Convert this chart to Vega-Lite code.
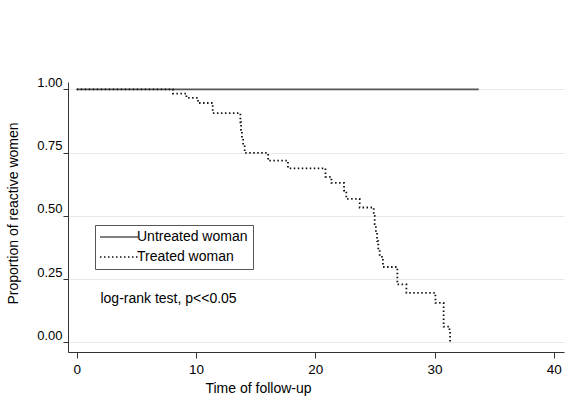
{
  "$schema": "https://vega.github.io/schema/vega-lite/v6.json",
  "width": 496,
  "height": 270,
  "autosize": {"type": "none"},
  "padding": {"left": 68, "top": 82, "right": 4, "bottom": 51},
  "background": "white",
  "config": {
    "font": "Liberation Sans",
    "view": {"stroke": null},
    "axis": {"labelFont": "Liberation Sans", "titleFont": "Liberation Sans", "labelColor": "#000", "titleColor": "#000", "titleFontWeight": "normal", "domainColor": "#333", "tickColor": "#333", "gridColor": "#e8e8e8"},
    "legend": {"title": null, "orient": "none", "legendX": 27, "legendY": 143, "strokeColor": "#555", "fillColor": "white", "padding": 5, "symbolType": "M-3.5,0H15.5", "symbolSize": 16, "symbolStrokeWidth": 1.5, "labelFont": "Liberation Sans", "labelFontSize": 14, "labelOffset": 23, "labelColor": "#000", "rowPadding": 6, "labelLimit": 300}
  },
  "datasets": {
    "curves": [
      {"group": "Untreated woman", "t": 0, "s": 1.0},
      {"group": "Untreated woman", "t": 33.7, "s": 1.0},
      {"group": "Treated woman", "t": 0, "s": 1.0},
      {"group": "Treated woman", "t": 8.07, "s": 0.983},
      {"group": "Treated woman", "t": 9.2, "s": 0.966},
      {"group": "Treated woman", "t": 10.17, "s": 0.946},
      {"group": "Treated woman", "t": 11.4, "s": 0.906},
      {"group": "Treated woman", "t": 13.72, "s": 0.87},
      {"group": "Treated woman", "t": 13.78, "s": 0.84},
      {"group": "Treated woman", "t": 13.85, "s": 0.805},
      {"group": "Treated woman", "t": 13.95, "s": 0.78},
      {"group": "Treated woman", "t": 14.08, "s": 0.749},
      {"group": "Treated woman", "t": 16.05, "s": 0.718},
      {"group": "Treated woman", "t": 17.71, "s": 0.688},
      {"group": "Treated woman", "t": 20.85, "s": 0.654},
      {"group": "Treated woman", "t": 21.35, "s": 0.63},
      {"group": "Treated woman", "t": 22.41, "s": 0.6},
      {"group": "Treated woman", "t": 22.6, "s": 0.567},
      {"group": "Treated woman", "t": 23.72, "s": 0.533},
      {"group": "Treated woman", "t": 24.9, "s": 0.5},
      {"group": "Treated woman", "t": 24.98, "s": 0.467},
      {"group": "Treated woman", "t": 25.08, "s": 0.433},
      {"group": "Treated woman", "t": 25.18, "s": 0.4},
      {"group": "Treated woman", "t": 25.28, "s": 0.367},
      {"group": "Treated woman", "t": 25.4, "s": 0.338},
      {"group": "Treated woman", "t": 25.67, "s": 0.298},
      {"group": "Treated woman", "t": 26.88, "s": 0.229},
      {"group": "Treated woman", "t": 27.64, "s": 0.196},
      {"group": "Treated woman", "t": 30.07, "s": 0.156},
      {"group": "Treated woman", "t": 30.76, "s": 0.062},
      {"group": "Treated woman", "t": 31.25, "s": 0.042},
      {"group": "Treated woman", "t": 31.3, "s": 0.0}
    ],
    "note": [
      {"t": 1.99, "s": 0.171, "label": "log-rank test, p<<0.05"}
    ]
  },
  "layer": [
    {
      "data": {"name": "curves"},
      "mark": {"type": "line", "interpolate": "step-after", "strokeWidth": 1.8, "strokeCap": "butt"},
      "encoding": {
        "x": {
          "field": "t", "type": "quantitative",
          "scale": {"domain": [-0.73, 40.85], "nice": false, "zero": false},
          "axis": {"values": [0, 10, 20, 30, 40], "format": "d", "grid": false, "title": "Time of follow-up", "titleFontSize": 14, "labelFontSize": 13.5, "tickSize": 6, "labelPadding": 4, "titleX": 190, "titleY": 36, "titleBaseline": "middle", "titleAnchor": null, "titleAlign": "center", "labelFlush": false}
        },
        "y": {
          "field": "s", "type": "quantitative",
          "scale": {"domain": [-0.038, 1.029], "nice": false, "zero": false},
          "axis": {"values": [0, 0.25, 0.5, 0.75, 1.0], "format": ".2f", "grid": true, "title": "Proportion of reactive women", "titleFontSize": 14, "labelFontSize": 13, "tickSize": 5, "labelPadding": 1, "labelBaseline": "bottom", "labelOffset": 0, "titleX": -55, "titleY": 131, "titleBaseline": "middle", "titleAlign": "center", "titleAngle": -90, "labelFlush": false}
        },
        "color": {
          "field": "group", "type": "nominal",
          "scale": {"domain": ["Untreated woman", "Treated woman"], "range": ["#555555", "#111111"]}
        },
        "strokeDash": {
          "field": "group", "type": "nominal",
          "scale": {"domain": ["Untreated woman", "Treated woman"], "range": [[1, 0], [1.5, 2.5]]}
        }
      }
    },
    {
      "data": {"name": "note"},
      "mark": {"type": "text", "align": "left", "baseline": "middle", "fontSize": 14, "font": "Liberation Sans", "color": "#000"},
      "encoding": {
        "x": {"field": "t", "type": "quantitative"},
        "y": {"field": "s", "type": "quantitative"},
        "text": {"field": "label"}
      }
    }
  ]
}
